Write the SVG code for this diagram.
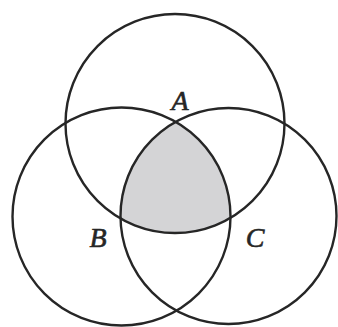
<svg xmlns="http://www.w3.org/2000/svg" width="338" height="327" viewBox="0 0 338 327">
<style>
.c{fill:none;stroke:#262626;stroke-width:2.4}
.l{font-family:"Liberation Serif","DejaVu Serif",serif;font-style:italic;font-size:28px;fill:#262626;stroke:#262626;stroke-width:0.6;text-anchor:middle}
</style>
<defs>
<clipPath id="cb"><circle cx="121.5" cy="216.5" r="109"/></clipPath>
<clipPath id="cc"><circle cx="228.5" cy="216" r="108"/></clipPath>
</defs>
<rect width="338" height="327" fill="#fff"/>
<g id="shade" clip-path="url(#cb)"><g clip-path="url(#cc)"><circle cx="175" cy="123.5" r="109.5" fill="#d4d4d6"/></g></g>
<g id="A"><circle class="c" cx="175" cy="123.5" r="109.5"/><text class="l" x="180" y="110">A</text></g>
<g id="B"><circle class="c" cx="121.5" cy="216.5" r="109"/><text class="l" x="98" y="247">B</text></g>
<g id="C"><circle class="c" cx="228.5" cy="216" r="108"/><text class="l" x="255" y="247">C</text></g>
</svg>
